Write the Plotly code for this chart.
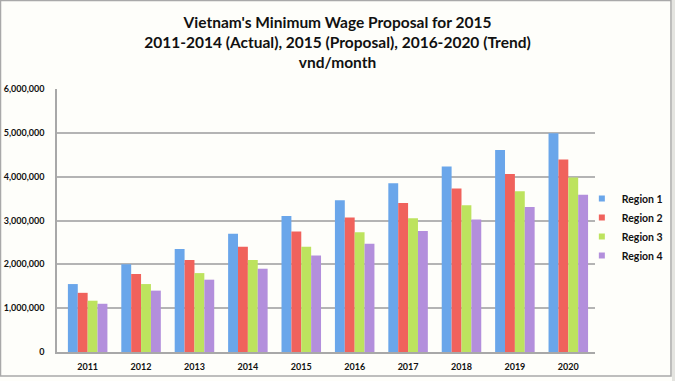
import plotly.graph_objects as go

years = ["2011", "2012", "2013", "2014", "2015", "2016", "2017", "2018", "2019", "2020"]
region1 = [1550000, 2000000, 2350000, 2700000, 3100000, 3460000, 3850000, 4230000, 4610000, 4990000]
region2 = [1350000, 1780000, 2100000, 2400000, 2750000, 3070000, 3400000, 3730000, 4060000, 4390000]
region3 = [1170000, 1550000, 1800000, 2100000, 2400000, 2730000, 3050000, 3350000, 3670000, 3980000]
region4 = [1100000, 1400000, 1650000, 1900000, 2200000, 2470000, 2760000, 3020000, 3310000, 3590000]
series_names = ["Region 1", "Region 2", "Region 3", "Region 4"]
colors = ["#6aa6ea", "#f0625c", "#bde35e", "#b38fdc"]

FONT = "Lato"
BOLD = dict(family=FONT, color="#111111", weight=700)

fig = go.Figure()
for name, vals, c in zip(series_names, [region1, region2, region3, region4], colors):
    fig.add_trace(go.Bar(
        x=years, y=vals, name=name, showlegend=False,
        marker=dict(color=c, line=dict(width=0)),
    ))
# legend entries with small square keys
for name, c in zip(series_names, colors):
    fig.add_trace(go.Scatter(
        x=[years[0]], y=[None], mode="markers", name=name,
        marker=dict(symbol="square", size=6, color=c), showlegend=True,
    ))

fig.update_layout(
    width=675, height=381,
    barmode="group", bargap=0.26, bargroupgap=0,
    paper_bgcolor="#fefefa", plot_bgcolor="#fefefa",
    margin=dict(l=57, r=80, t=89, b=29, autoexpand=False),
    font=dict(family=FONT, color="#111111"),
    title=dict(
        text="<b>Vietnam's Minimum Wage Proposal for 2015<br>2011-2014 (Actual), 2015 (Proposal), 2016-2020 (Trend)<br>vnd/month</b>",
        x=0.5, xanchor="center", xref="container",
        y=0.926, yanchor="top", yref="container",
        font=dict(size=15.5, family=FONT, color="#111111"),
    ),
    xaxis=dict(
        automargin=False,
        showgrid=False, showline=True, linecolor="#a8a8a8", linewidth=1.5,
        ticks="", tickfont=dict(size=9, **BOLD),
        ticklabelstandoff=5,
    ),
    yaxis=dict(
        automargin=False,
        range=[0, 6000000], dtick=1000000, tickformat=",d",
        showgrid=True, gridcolor="#b4b4b4", gridwidth=1.5,
        showline=True, linecolor="#a8a8a8", linewidth=1.5,
        zeroline=False, ticks="",
        tickfont=dict(size=9, **BOLD),
        ticklabelstandoff=9,
    ),
    legend=dict(
        xref="container", yref="container",
        x=0.862, xanchor="left", y=1 - 227 / 381, yanchor="middle",
        font=dict(size=10.5, **BOLD),
        bgcolor="rgba(0,0,0,0)", itemwidth=30, tracegroupgap=0,
    ),
    shapes=[
        dict(type="rect", xref="paper", yref="paper",
             x0=(0.5 - 57) / 538, x1=(671 - 57) / 538,
             y0=(352 - 376) / 263, y1=(352 - 0.5) / 263,
             line=dict(color="#a9a9a9", width=1.5), fillcolor="rgba(0,0,0,0)", layer="below"),
        dict(type="rect", xref="paper", yref="paper",
             x0=(672 - 57) / 538, x1=(676 - 57) / 538,
             y0=(352 - 382) / 263, y1=(352 + 1) / 263,
             line=dict(width=0), fillcolor="#e4e4e0", layer="below"),
    ],
)

fig.write_html(
    "out.html",
    config={"displayModeBar": False},
    post_script="document.body.style.margin='0';document.body.style.overflow='hidden';",
)
